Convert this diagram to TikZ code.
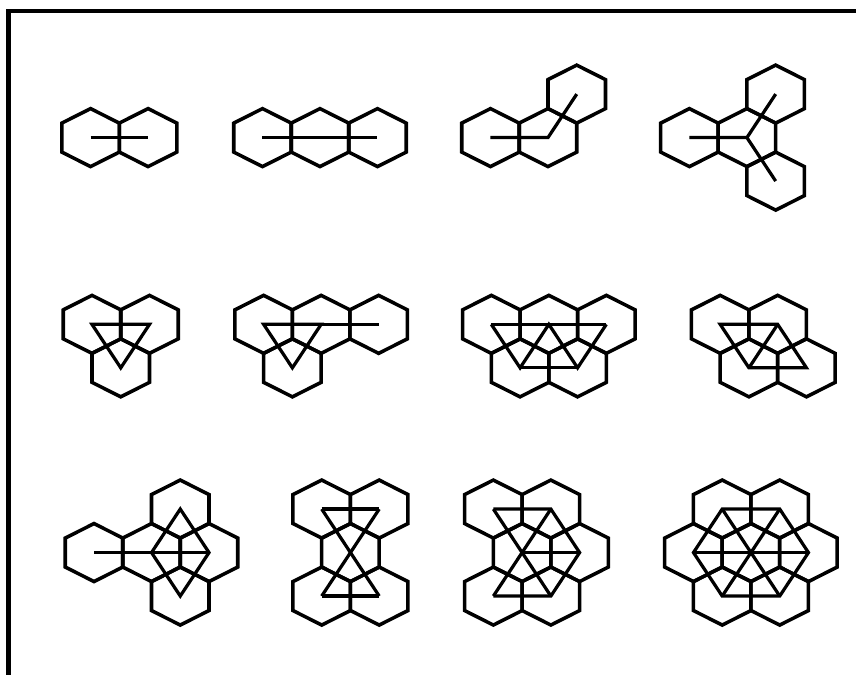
\documentclass[tikz,border=0pt]{standalone}
\usepackage{tikz}
\usetikzlibrary{calc}

% one hexagonal ring round a named centre
\newcommand{\hexcell}[1]{%
  \draw[hexline] (#1) ++(0,1) -- ++(1,-0.5) -- ++(0,-1) -- ++(-1,-0.5)
    -- ++(-1,0.5) -- ++(0,1) -- cycle;}

\begin{document}
\begin{tikzpicture}[x=0.5cm, y=0.5043cm,
    hexline/.style={line width=1.75pt, line join=miter},
    dualline/.style={line width=1.6pt},
    frameline/.style={line width=2.2pt}]
  \useasboundingbox (0,0) rectangle (29.774,23.276);

  % Frame
  \draw[frameline] (0.3,0) -- (0.3,22.89) -- (29.774,22.89);

  % Row 1: two rings
  \begin{scope}[shift={(3.15,18.53)}]
    \coordinate (a1) at (0,0);
    \coordinate (a2) at (2,0);
  \end{scope}
  \foreach \c in {a1,a2} {\hexcell{\c}}
  \draw[dualline] (a1) -- (a2);

  % Row 1: three rings in a line
  \begin{scope}[shift={(9.13,18.53)}]
    \coordinate (b1) at (0,0);
    \coordinate (b2) at (2,0);
    \coordinate (b3) at (4,0);
  \end{scope}
  \foreach \c in {b1,b2,b3} {\hexcell{\c}}
  \draw[dualline] (b1) -- (b2) -- (b3);

  % Row 1: three rings, bent
  \begin{scope}[shift={(17.06,18.53)}]
    \coordinate (c1) at (0,0);
    \coordinate (c2) at (2,0);
    \coordinate (c3) at (3,1.5);
  \end{scope}
  \foreach \c in {c1,c2,c3} {\hexcell{\c}}
  \draw[dualline] (c1) -- (c2) -- (c3);

  % Row 1: four rings, branched
  \begin{scope}[shift={(23.98,18.53)}]
    \coordinate (d1) at (0,0);
    \coordinate (d2) at (2,0);
    \coordinate (d3) at (3,1.5);
    \coordinate (d4) at (3,-1.5);
  \end{scope}
  \foreach \c in {d1,d2,d3,d4} {\hexcell{\c}}
  \draw[dualline] (d1) -- (d2) -- (d3);
  \draw[dualline] (d2) -- (d4);

  % Row 2: three rings round a vertex
  \begin{scope}[shift={(3.2,12.09)}]
    \coordinate (e1) at (0,0);
    \coordinate (e2) at (2,0);
    \coordinate (e3) at (1,-1.5);
  \end{scope}
  \foreach \c in {e1,e2,e3} {\hexcell{\c}}
  \draw[dualline] (e1) -- (e2) -- (e3) -- cycle;

  % Row 2: four rings
  \begin{scope}[shift={(9.17,12.09)}]
    \coordinate (f1) at (0,0);
    \coordinate (f2) at (2,0);
    \coordinate (f3) at (4,0);
    \coordinate (f4) at (1,-1.5);
  \end{scope}
  \foreach \c in {f1,f2,f3,f4} {\hexcell{\c}}
  \draw[dualline] (f1) -- (f2) -- (f4) -- cycle;
  \draw[dualline] (f2) -- (f3);

  % Row 2: five rings
  \begin{scope}[shift={(17.09,12.09)}]
    \coordinate (g1) at (0,0);
    \coordinate (g2) at (2,0);
    \coordinate (g3) at (4,0);
    \coordinate (g4) at (1,-1.5);
    \coordinate (g5) at (3,-1.5);
  \end{scope}
  \foreach \c in {g1,g2,g3,g4,g5} {\hexcell{\c}}
  \draw[dualline] (g1) -- (g3);
  \draw[dualline] (g4) -- (g5);
  \draw[dualline] (g1) -- (g4) -- (g2) -- (g5) -- (g3);

  % Row 2: four rings, rhombus
  \begin{scope}[shift={(25.05,12.09)}]
    \coordinate (h1) at (0,0);
    \coordinate (h2) at (2,0);
    \coordinate (h3) at (1,-1.5);
    \coordinate (h4) at (3,-1.5);
  \end{scope}
  \foreach \c in {h1,h2,h3,h4} {\hexcell{\c}}
  \draw[dualline] (h1) -- (h2) -- (h4) -- (h3) -- cycle;
  \draw[dualline] (h2) -- (h3);

  % Row 3: five rings
  \begin{scope}[shift={(3.27,4.22)}]
    \coordinate (i1) at (0,0);
    \coordinate (i2) at (2,0);
    \coordinate (i3) at (3,1.5);
    \coordinate (i4) at (4,0);
    \coordinate (i5) at (3,-1.5);
  \end{scope}
  \foreach \c in {i1,i2,i3,i4,i5} {\hexcell{\c}}
  \draw[dualline] (i1) -- (i4);
  \draw[dualline] (i2) -- (i3) -- (i4) -- (i5) -- cycle;

  % Row 3: five rings, hourglass
  \begin{scope}[shift={(12.19,4.22)}]
    \coordinate (j1) at (-1,1.5);
    \coordinate (j2) at (1,1.5);
    \coordinate (j3) at (0,0);
    \coordinate (j4) at (-1,-1.5);
    \coordinate (j5) at (1,-1.5);
  \end{scope}
  \foreach \c in {j1,j2,j3,j4,j5} {\hexcell{\c}}
  \draw[dualline] (j1) -- (j2);
  \draw[dualline] (j4) -- (j5);
  \draw[dualline] (j1) -- (j3) -- (j5);
  \draw[dualline] (j2) -- (j3) -- (j4);

  % Row 3: six rings
  \begin{scope}[shift={(18.16,4.22)}]
    \coordinate (k1) at (-1,1.5);
    \coordinate (k2) at (1,1.5);
    \coordinate (k3) at (0,0);
    \coordinate (k4) at (2,0);
    \coordinate (k5) at (-1,-1.5);
    \coordinate (k6) at (1,-1.5);
  \end{scope}
  \foreach \c in {k1,k2,k3,k4,k5,k6} {\hexcell{\c}}
  \draw[dualline] (k1) -- (k2) -- (k4) -- (k6) -- (k5);
  \draw[dualline] (k1) -- (k3) -- (k6);
  \draw[dualline] (k2) -- (k3) -- (k5);
  \draw[dualline] (k3) -- (k4);

  % Row 3: seven rings
  \begin{scope}[shift={(26.12,4.22)}]
    \coordinate (m0) at (0,0);
    \coordinate (m1) at (2,0);
    \coordinate (m2) at (1,1.5);
    \coordinate (m3) at (-1,1.5);
    \coordinate (m4) at (-2,0);
    \coordinate (m5) at (-1,-1.5);
    \coordinate (m6) at (1,-1.5);
  \end{scope}
  \foreach \c in {m0,m1,m2,m3,m4,m5,m6} {\hexcell{\c}}
  \draw[dualline] (m1) -- (m2) -- (m3) -- (m4) -- (m5) -- (m6) -- cycle;
  \foreach \k in {1,...,6} {\draw[dualline] (m0) -- (m\k);}
\end{tikzpicture}
\end{document}
